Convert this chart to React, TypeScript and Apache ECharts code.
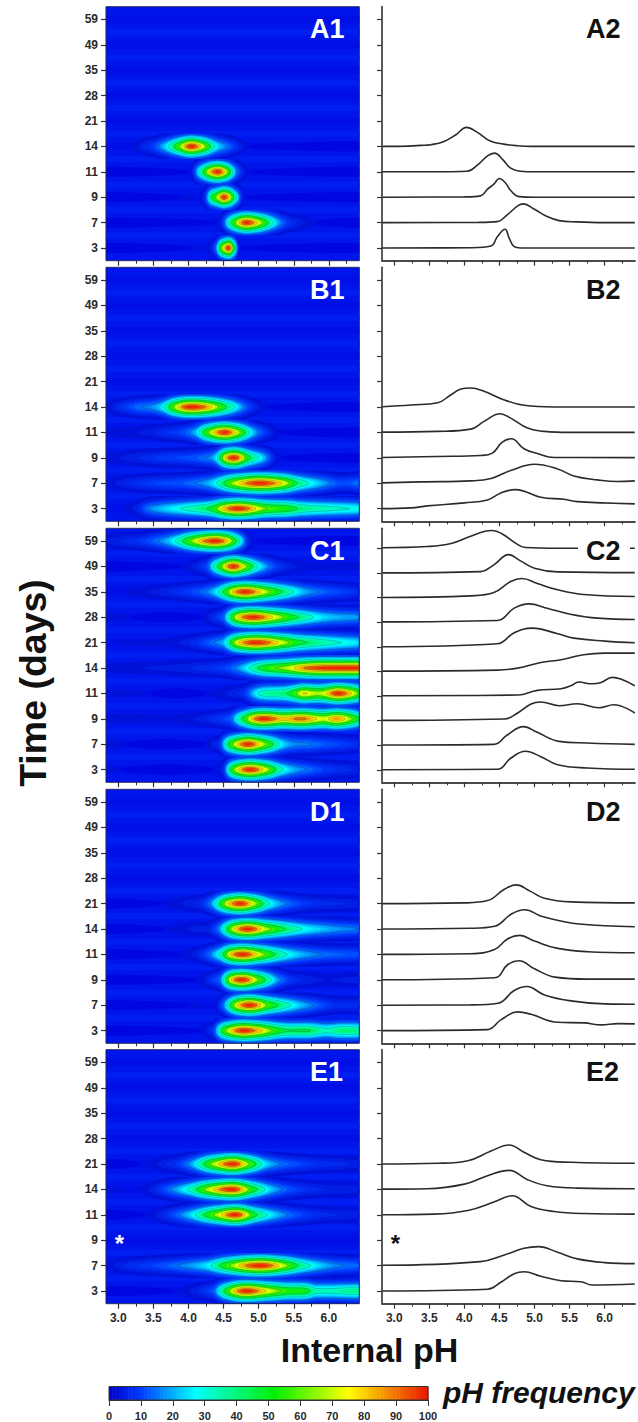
import React, { useEffect, useRef } from "react";
import * as echarts from "echarts";

type Knot = [number, number];

const days = ["3", "7", "9", "11", "14", "21", "28", "35", "49", "59"];
const phTicks = [3, 3.5, 4, 4.5, 5, 5.5, 6];
const phMinorTicks = [3, 3.25, 3.5, 3.75, 4, 4.25, 4.5, 4.75, 5, 5.25, 5.5, 5.75, 6, 6.25];

const A_14: Knot[] = [[2.83,0],[3.2,0.3],[3.38,1],[3.52,1.7],[3.71,5],[3.88,11.7],[4.03,19],[4.18,14.3],[4.37,5.3],[4.56,2.3],[4.75,0.7],[4.95,0],[6.43,0]];
const A_11: Knot[] = [[2.83,0],[3.8,0.1],[4.04,0.5],[4.19,7],[4.33,16],[4.43,18.7],[4.54,12.7],[4.66,3.7],[4.8,0.6],[5,0],[6.43,0]];
const A_9: Knot[] = [[2.83,0],[4,0.3],[4.23,1.3],[4.33,8],[4.42,13],[4.5,18.7],[4.58,14.7],[4.66,6.7],[4.78,0.6],[5,0],[6.43,0]];
const A_7: Knot[] = [[2.83,0],[4.2,0.2],[4.47,1],[4.61,7.7],[4.76,16.7],[4.84,18.7],[5,13.3],[5.18,6],[5.35,2],[5.6,0.7],[6,0],[6.43,0]];
const A_3: Knot[] = [[2.83,0],[4.09,0.3],[4.38,2],[4.47,11.3],[4.58,18.7],[4.64,9.7],[4.71,1.3],[4.8,0],[6.43,0]];

const B_14: Knot[] = [[2.83,0.3],[3.24,2],[3.62,4.3],[3.81,12.3],[3.95,18],[4.09,19],[4.28,15.7],[4.56,7.3],[4.85,1.7],[5.28,0],[6.43,0]];
const B_11: Knot[] = [[2.83,0.3],[3.62,1],[4.09,3.3],[4.28,11],[4.51,18.7],[4.66,14.3],[4.9,4.3],[5.14,1],[5.5,0],[6.43,0]];
const B_9: Knot[] = [[2.83,0.3],[3.62,1.3],[4.23,2.3],[4.4,4.7],[4.54,15.7],[4.67,19],[4.85,9],[5.04,4.3],[5.28,0.3],[6.43,0.2]];
const B_7: Knot[] = [[2.83,0.3],[3.38,1.3],[4.09,2.3],[4.38,4.7],[4.66,12.7],[5,19],[5.33,14.3],[5.56,7.3],[5.9,3.3],[6.18,1.7],[6.43,2.3]];
const B_3: Knot[] = [[2.83,0],[3.24,0.7],[3.47,2.7],[4,5.7],[4.33,8.7],[4.52,15.7],[4.73,19],[5.09,11.3],[5.42,9.3],[5.61,7],[6,5.7],[6.43,4.7]];

const C_59: Knot[] = [[2.83,0.5],[3.47,1.7],[3.81,4.7],[4.09,12],[4.28,16.7],[4.4,17.7],[4.54,14.3],[4.71,6],[4.87,0.7],[5.33,0],[6.43,0]];
const C_49: Knot[] = [[2.83,0],[4.23,1.3],[4.42,8],[4.63,18.3],[4.8,12],[5,4.7],[5.33,1],[6.43,0.3]];
const C_35: Knot[] = [[2.83,0],[4.09,1.7],[4.42,5],[4.66,16],[4.82,19],[5.04,14],[5.33,7.7],[5.7,3],[6.43,1]];
const C_28: Knot[] = [[2.83,0.3],[4.47,1.7],[4.71,14],[4.92,18.3],[5.18,14],[5.51,8],[5.9,4],[6.43,2.7]];
const C_21: Knot[] = [[2.83,0],[4.47,3],[4.71,14],[4.97,18.7],[5.33,13],[5.56,8.7],[6,5.7],[6.43,4]];
const C_14: Knot[] = [[2.83,0.3],[4.47,1.3],[4.76,3.3],[5.09,9],[5.38,11.7],[5.7,16.7],[6,18.3],[6.43,18.3]];
const C_11: Knot[] = [[2.83,0.3],[4.76,1],[5.04,5.7],[5.38,7.3],[5.52,10.3],[5.63,14],[5.82,12.3],[5.94,13.3],[6.11,18.7],[6.23,17],[6.43,10.3]];
const C_9: Knot[] = [[2.83,0.3],[4.57,1.7],[4.76,7.7],[4.95,16.7],[5.09,18.7],[5.35,15],[5.61,17],[5.92,13],[6.13,16],[6.43,7.7]];
const C_7: Knot[] = [[2.83,0.3],[4.42,1],[4.61,10.3],[4.84,18.7],[5.04,13],[5.35,4],[5.75,2.3],[6.43,1]];
const C_3: Knot[] = [[2.83,0.3],[4.47,0.7],[4.66,11.7],[4.87,18.7],[5.09,13.3],[5.33,5.3],[5.75,2],[6.43,0.7]];

const D_21: Knot[] = [[2.83,0],[4,0.7],[4.33,3],[4.57,14.3],[4.74,18.7],[4.93,12.7],[5.14,5.3],[5.52,1.7],[6.43,0.7]];
const D_14: Knot[] = [[2.83,0],[4.09,0.7],[4.43,2.7],[4.67,15],[4.86,19.3],[5.1,12.7],[5.52,6],[6,3.3],[6.43,2.3]];
const D_11: Knot[] = [[2.83,0],[4.09,0.7],[4.43,5],[4.62,15.7],[4.79,19],[5,13.3],[5.33,6],[5.76,2.7],[6.43,1.7]];
const D_9: Knot[] = [[2.83,0],[4.43,2],[4.62,15.3],[4.78,19],[5,11],[5.29,2.7],[5.76,0.7],[6.43,0.7]];
const D_7: Knot[] = [[2.83,0],[4.09,0.3],[4.48,2],[4.71,14.7],[4.89,18.7],[5.14,10.3],[5.52,4.3],[6,1.3],[6.43,1]];
const D_3: Knot[] = [[2.83,0],[4.33,1],[4.52,10.7],[4.76,18.7],[4.95,16.3],[5.33,8.3],[5.71,7.7],[5.95,5.7],[6.19,7],[6.43,6.7]];

const E_21: Knot[] = [[2.83,0],[3.62,0.7],[4.05,3.3],[4.38,13],[4.64,19],[4.85,11.7],[5.09,4.3],[5.52,1.7],[6.43,0.7]];
const E_14: Knot[] = [[2.83,0.3],[3.47,0.7],[4,5.3],[4.33,13.7],[4.64,19],[4.9,9.7],[5.18,3.7],[5.6,1.3],[6.43,0.7]];
const E_11: Knot[] = [[2.83,0],[3.57,0.7],[4.05,4.3],[4.42,12.7],[4.68,19],[4.95,8.3],[5.28,3.3],[5.7,1.3],[6.43,0.7]];
const E_7: Knot[] = [[2.83,0.3],[4.23,4],[4.57,10.7],[4.85,17.3],[5.06,19],[5.33,13.3],[5.61,6.7],[6,3],[6.43,2]];
const E_3: Knot[] = [[2.83,0],[4.33,1.7],[4.52,8.7],[4.71,17.3],[4.85,19.3],[5.09,14.7],[5.38,10.3],[5.66,9.3],[5.82,6],[6.43,7]];

const curvesA = [A_3, A_7, A_9, A_11, A_14];
const curvesB = [B_3, B_7, B_9, B_11, B_14];
const curvesC = [C_3, C_7, C_9, C_11, C_14, C_21, C_28, C_35, C_49, C_59];
const curvesD = [D_3, D_7, D_9, D_11, D_14, D_21];
const curvesE = [E_3, E_7, null, E_11, E_14, E_21];

const contourLevels = [2, 4, 6, 8, 10, 12.5, 15, 17.5, 20, 22.5, 25, 27.5, 30, 33, 36, 40, 44, 48, 52, 56, 60, 64, 68, 72, 76, 80, 84, 88, 92, 96];
const contourLines = [15, 30, 44, 60, 76, 88];

const jetStops: [number, number[]][] = [
  [0, [0, 0, 200]], [10, [0, 60, 255]], [27, [0, 255, 255]], [52, [0, 240, 0]], [75, [255, 255, 0]], [100, [235, 20, 0]],
];
function jet(v: number): string {
  for (let i = 1; i < jetStops.length; i++) {
    if (v <= jetStops[i][0]) {
      const [a, ca] = jetStops[i - 1];
      const [b, cb] = jetStops[i];
      const t = (v - a) / (b - a);
      return `rgb(${ca.map((c, k) => Math.round(c + (cb[k] - c) * t)).join(",")})`;
    }
  }
  return "rgb(235,20,0)";
}

const X_MIN = 2.825;
const X_MAX = 6.433;
const FONT = '"Liberation Sans", Arial, sans-serif';

function hermite(k: Knot[], x: number): number {
  let i = 0;
  while (i < k.length - 2 && x > k[i + 1][0]) i++;
  const [x0, y0] = k[i];
  const [x1, y1] = k[i + 1];
  const h = x1 - x0;
  const slope = (a: number) => {
    if (a <= 0 || a >= k.length - 1) return (y1 - y0) / h;
    return (k[a + 1][1] - k[a - 1][1]) / (k[a + 1][0] - k[a - 1][0]);
  };
  const t = Math.min(1, Math.max(0, (x - x0) / h));
  const m0 = slope(i) * h;
  const m1 = slope(i + 1) * h;
  const t2 = t * t, t3 = t2 * t;
  return (2 * t3 - 3 * t2 + 1) * y0 + (t3 - 2 * t2 + t) * m0 + (-2 * t3 + 3 * t2) * y1 + (t3 - t2) * m1;
}

function rowProfile(k: Knot[]) {
  const xs: number[] = [];
  const vs: number[] = [];
  const top = Math.max(...k.map((p) => p[1]));
  for (let x = X_MIN; x <= X_MAX + 1e-6; x += 0.015) {
    xs.push(x);
    vs.push(100 * Math.pow(Math.max(0, hermite(k, x) / top), 0.9));
  }
  return { xs, vs };
}

function halfHeight(v: number, level: number): number {
  if (v <= level) return 0;
  return Math.min(0.5, 0.31 * Math.pow(Math.log(v / level), 0.6));
}

function contourItem(curves: (Knot[] | null)[]) {
  const profiles = curves.map((c) => (c ? rowProfile(c) : null));
  return (_: any, api: any) => {
    const level = api.value(2);
    const children: any[] = [];
    const corner = (x: number, y: number) => api.coord([x, y]);
    if (level === 0) {
      const bg = (y0: number, y1: number, fill: string) =>
        children.push({
          type: "polygon",
          shape: { points: [corner(X_MIN, y0), corner(X_MAX, y0), corner(X_MAX, y1), corner(X_MIN, y1)] },
          style: { fill },
        });
      bg(-0.5, 9.5, "rgb(0,20,236)");
      for (let r = 0; r < days.length; r++) {
        bg(r - 0.14, r + 0.14, "rgb(0,14,231)");
        if (r < days.length - 1) bg(r + 0.38, r + 0.62, "rgb(0,30,242)");
      }
      profiles.forEach((p, row) => {
        if (!p) return;
        let start = -1;
        const lobe = (a: number, b: number) => {
          if (p.xs[b] - p.xs[a] < 0.5) return;
          const n = 24;
          const pts: number[][] = [];
          const xa = p.xs[a], xb = p.xs[b];
          const openL = a === 0, openR = b === p.xs.length - 1;
          const env = (u: number) =>
            Math.sqrt(Math.max(0, openL ? Math.cos((u * Math.PI) / 2) : openR ? Math.sin((u * Math.PI) / 2) : Math.sin(u * Math.PI)));
          for (let i = 0; i <= n; i++) pts.push(corner(xa + ((xb - xa) * i) / n, row + 0.2 * env(i / n)));
          for (let i = n; i >= 0; i--) pts.push(corner(xa + ((xb - xa) * i) / n, row - 0.2 * env(i / n)));
          children.push({ type: "polygon", shape: { points: pts }, style: { fill: "rgb(0,6,224)" } });
        };
        p.vs.forEach((v, i) => {
          if (v < 2) {
            if (start < 0) start = i;
          } else if (start >= 0) {
            lobe(start, i - 1);
            start = -1;
          }
        });
        if (start >= 0) lobe(start, p.vs.length - 1);
      });
      return { type: "group", children };
    }
    const next = contourLevels[contourLevels.indexOf(level) + 1] ?? 100;
    const fill = jet((level + next) / 2);
    const hasLine = contourLines.includes(level);
    profiles.forEach((p, row) => {
      if (!p) return;
      let run: number[] = [];
      const flush = () => {
        if (run.length >= 2) {
          const top = run.map((i) => corner(p.xs[i], row + halfHeight(p.vs[i], level)));
          const bot = run.slice().reverse().map((i) => corner(p.xs[i], row - halfHeight(p.vs[i], level)));
          children.push({
            type: "polygon",
            shape: { points: top.concat(bot) },
            style: {
              fill,
              stroke: hasLine ? "rgba(0,50,60,0.45)" : "none",
              lineWidth: hasLine ? 0.6 : 0,
            },
          });
        }
        run = [];
      };
      p.vs.forEach((v, i) => {
        if (v > level) run.push(i);
        else flush();
      });
      flush();
    });
    return { type: "group", children };
  };
}

const panels = [
  { key: "A", top: 6.7, curves: curvesA, lineMax: 9.5, rowPx: 25.4 },
  { key: "B", top: 267.3, curves: curvesB, lineMax: 9.5, rowPx: 25.4 },
  { key: "C", top: 528.3, curves: curvesC, lineMax: 9.81, rowPx: 24.63 },
  { key: "D", top: 789.3, curves: curvesD, lineMax: 9.5, rowPx: 25.4 },
  { key: "E", top: 1049.7, curves: curvesE, lineMax: 9.5, rowPx: 25.4 },
];

const PANEL_H = 254;
const LEFT_X = 106;
const LEFT_W = 253.3;
const RIGHT_X = 382;
const RIGHT_W = 253;
const INK = "#2a2a2a";

function buildOption() {
  const grid: any[] = [];
  const xAxis: any[] = [];
  const yAxis: any[] = [];
  const series: any[] = [];
  const elements: any[] = [];
  const label = { show: true, fontFamily: FONT, fontWeight: "bold", fontSize: 12, color: INK };

  const addPanel = (top: number, left: number, width: number, isHeat: boolean, showX: boolean, yMax: number) => {
    const g = grid.length;
    grid.push({ left, top, width, height: PANEL_H, containLabel: false });
    const line = { show: !isHeat, onZero: false, lineStyle: { color: "#4a4a4a", width: 1.8 } };
    xAxis.push({
      gridIndex: g, type: "value", position: "bottom", min: X_MIN, max: X_MAX, splitLine: { show: false },
      axisLine: line,
      axisTick: { show: true, length: 5, customValues: phTicks, lineStyle: { color: "#333", width: 1.2 } },
      axisLabel: showX
        ? { ...label, margin: 8, customValues: phTicks, formatter: (v: number) => v.toFixed(1) }
        : { show: false },
    });
    xAxis.push({
      gridIndex: g, type: "value", position: "bottom", min: X_MIN, max: X_MAX, splitLine: { show: false },
      axisLine: { show: false, onZero: false },
      axisTick: { show: true, length: 3, customValues: phMinorTicks, lineStyle: { color: "#333", width: 1 } },
      axisLabel: { show: false },
    });
    yAxis.push({
      gridIndex: g, type: "value", min: -0.5, max: yMax, splitLine: { show: false },
      axisLine: line,
      axisTick: { show: true, length: 5, customValues: days.map((_, i) => i), lineStyle: { color: "#333", width: 1.2 } },
      axisLabel: isHeat
        ? { ...label, margin: 8, customValues: days.map((_, i) => i), formatter: (v: number) => days[v] ?? "" }
        : { show: false },
    });
    return g;
  };

  const panelText = (text: string, x: number, y: number, fill: string) =>
    elements.push({
      type: "text", z: 60, x, y,
      style: { text, fill, font: `bold 27px ${FONT}`, textAlign: "left", textVerticalAlign: "middle" },
    });

  panels.forEach((p, idx) => {
    const last = idx === panels.length - 1;
    const gL = addPanel(p.top, LEFT_X, LEFT_W, true, last, 9.5);
    series.push({
      type: "custom", name: `${p.key}1`, coordinateSystem: "cartesian2d",
      xAxisIndex: xAxis.length - 2, yAxisIndex: gL, clip: true, silent: true,
      renderItem: contourItem(p.curves),
      encode: { x: 0, y: 1 },
      data: [0].concat(contourLevels).map((l) => [X_MIN, -0.5, l]),
    });
    elements.push({
      type: "rect", z: 55,
      shape: { x: LEFT_X, y: p.top, width: LEFT_W, height: PANEL_H },
      style: { fill: "none", stroke: "#1c2560", lineWidth: 1 },
    });
    const gR = addPanel(p.top, RIGHT_X, RIGHT_W, false, last, p.lineMax);
    p.curves.forEach((c, row) => {
      if (!c) return;
      series.push({
        type: "line", name: `${p.key}2 day ${days[row]}`, coordinateSystem: "cartesian2d",
        xAxisIndex: xAxis.length - 2, yAxisIndex: gR, showSymbol: false, smooth: 0.42, silent: true,
        lineStyle: { color: "#2b2b2b", width: 1.6 }, z: 3,
        data: c.map(([x, v]) => [x, row + v / p.rowPx]),
      });
    });
    panelText(`${p.key}1`, 310, p.top + 22.5, "#ffffff");
    panelText(`${p.key}2`, 586, p.top + 22.5, "#111111");
  });

  elements.push({
    type: "rect", z: 50,
    shape: { x: 578, y: 538, width: 52, height: 26 },
    style: { fill: "#ffffff" },
  });
  const star = (x: number, y: number, fill: string) =>
    elements.push({
      type: "text", z: 60, x, y,
      style: { text: "*", fill, font: `bold 24px ${FONT}`, textAlign: "center", textVerticalAlign: "middle" },
    });
  star(119.5, 1243, "#ffffff");
  star(395.5, 1243, "#111111");

  elements.push({
    type: "text", z: 60, x: 33, y: 683, rotation: Math.PI / 2,
    style: { text: "Time (days)", fill: "#111111", font: `bold 37.5px ${FONT}`, textAlign: "center", textVerticalAlign: "middle" },
  });
  elements.push({
    type: "text", z: 60, x: 369.5, y: 1350,
    style: { text: "Internal pH", fill: "#111111", font: `bold 34px ${FONT}`, textAlign: "center", textVerticalAlign: "middle" },
  });
  elements.push({
    type: "text", z: 60, x: 443, y: 1392,
    style: { text: "pH frequency", fill: "#111111", font: `italic bold 30px ${FONT}`, textAlign: "left", textVerticalAlign: "middle" },
  });

  // colour scale
  const g = grid.length;
  grid.push({ left: 109, top: 1386.5, width: 319, height: 13.5 });
  xAxis.push({
    gridIndex: g, type: "value", min: 0, max: 100, interval: 10, splitLine: { show: false },
    axisLine: { show: true, onZero: false, lineStyle: { color: "#333", width: 1 } },
    axisTick: { show: true, length: 6, lineStyle: { color: "#333", width: 1 } },
    axisLabel: { ...label, fontSize: 11, margin: 10, formatter: (v: number) => String(v) },
  });
  yAxis.push({ gridIndex: g, type: "value", min: 0, max: 1, show: false });
  const scaleSteps: number[] = [];
  for (let v = 0; v < 100; v++) scaleSteps.push(v);
  series.push({
    type: "custom", name: "pH frequency", coordinateSystem: "cartesian2d", silent: true,
    xAxisIndex: xAxis.length - 1, yAxisIndex: yAxis.length - 1,
    encode: { x: 0, y: 1 },
    data: scaleSteps.map((v) => [v, 0]),
    renderItem: (_: any, api: any) => {
      const v = api.value(0);
      const a = api.coord([v, 1]);
      const b = api.coord([v + 1, 0]);
      return {
        type: "rect",
        shape: { x: a[0], y: a[1], width: b[0] - a[0] + 0.5, height: b[1] - a[1] },
        style: { fill: jet(v + 0.5) },
      };
    },
  });
  elements.push({
    type: "rect", z: 55,
    shape: { x: 109, y: 1386.5, width: 319, height: 13.5 },
    style: { fill: "none", stroke: "#333", lineWidth: 1 },
  });

  return {
    animation: false,
    backgroundColor: "#ffffff",
    tooltip: { show: false },
    grid, xAxis, yAxis, series,
    graphic: { elements },
  };
}

export default function App() {
  const ref = useRef<HTMLDivElement>(null);
  useEffect(() => {
    document.body.style.margin = "0";
    const chart = echarts.init(ref.current!, undefined, { renderer: "svg" });
    chart.setOption(buildOption() as any);
    return () => chart.dispose();
  }, []);
  return <div ref={ref} style={{ width: 638, height: 1422 }} />;
}
